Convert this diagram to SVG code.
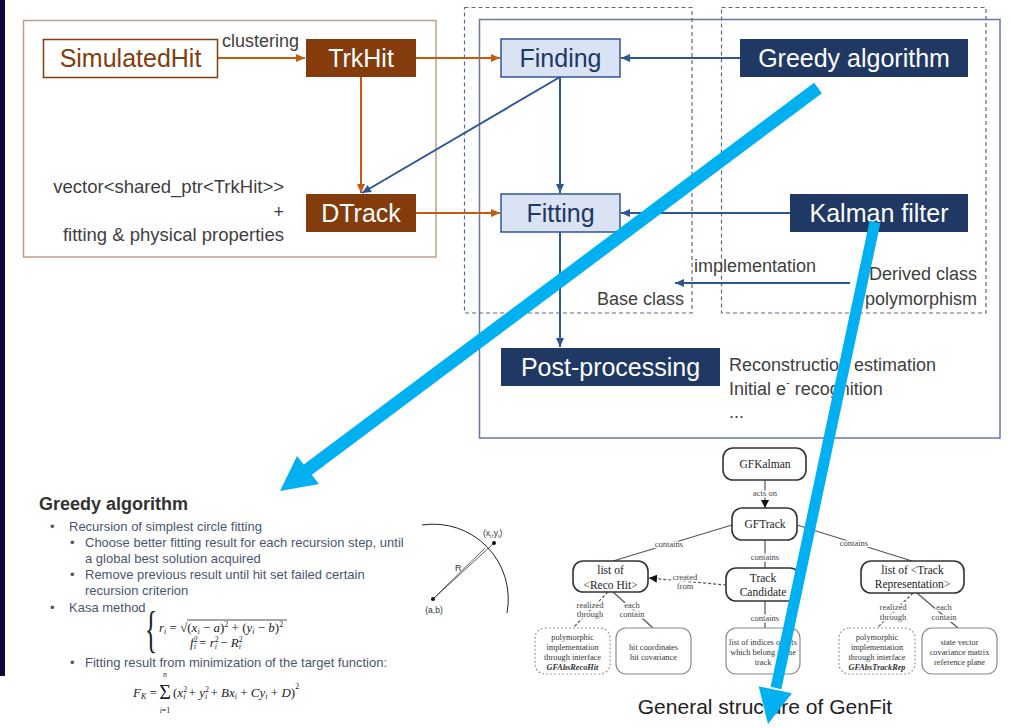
<svg xmlns="http://www.w3.org/2000/svg" width="1012" height="728" viewBox="0 0 1012 728">
<style>
.big{font-family:"Liberation Sans",Arial,sans-serif;font-size:25px;text-anchor:middle}
.mid{font-family:"Liberation Sans",Arial,sans-serif;font-size:18px;fill:#404040}
.or{stroke:#c55a11;stroke-width:2;fill:none}
.bl{stroke:#2f5597;stroke-width:2;fill:none}
.dash{fill:none;stroke:#5a6a8a;stroke-width:1.2;stroke-dasharray:4 3}
.cy{stroke:#00b0f0;stroke-width:13;fill:none}
.cyh{fill:#00b0f0}
.sl{font-family:"Liberation Sans",Arial,sans-serif;font-size:13px;fill:#4a5670}
.m{font-family:"Liberation Serif","Times New Roman",serif;fill:#222}
.gb{fill:#fff;stroke:#333;stroke-width:1.6}
.gs{fill:#fff;stroke:#888;stroke-width:1.2}
.gd{fill:#fff;stroke:#999;stroke-width:1.2;stroke-dasharray:2 2}
.gl{stroke:#555;stroke-width:1.2;fill:none}
.gld{stroke:#555;stroke-width:1.2;fill:none;stroke-dasharray:3 2}
.gt{font-family:"Liberation Serif","Times New Roman",serif;font-size:11.5px;fill:#222;text-anchor:middle}
.gsm{font-family:"Liberation Serif","Times New Roman",serif;font-size:8.3px;fill:#333;text-anchor:middle}
.glb{font-family:"Liberation Serif","Times New Roman",serif;font-size:8.5px;fill:#444;text-anchor:middle;paint-order:stroke;stroke:#fff;stroke-width:3px}
</style>
<defs>
<marker id="ao" markerUnits="userSpaceOnUse" markerWidth="9" markerHeight="8" refX="9" refY="4" orient="auto"><path d="M0,0 L9,4 L0,8 z" fill="#c55a11"/></marker>
<marker id="ab" markerUnits="userSpaceOnUse" markerWidth="9" markerHeight="8" refX="9" refY="4" orient="auto"><path d="M0,0 L9,4 L0,8 z" fill="#2f5597"/></marker>
<marker id="ak" markerUnits="userSpaceOnUse" markerWidth="8" markerHeight="8" refX="8" refY="4" orient="auto"><path d="M0,0 L8,4 L0,8 z" fill="#111"/></marker>
</defs>
<rect width="1012" height="728" fill="#fff"/>
<rect x="0" y="0" width="5" height="676" fill="#0b0b3b"/>

<!-- frames -->
<rect x="23.5" y="20.5" width="412.5" height="236.5" fill="none" stroke="#bf9e88" stroke-width="1.5"/>
<rect x="479.5" y="19.5" width="520.5" height="418.5" fill="none" stroke="#6677a3" stroke-width="1.5"/>
<rect class="dash" x="464.5" y="7.5" width="227.5" height="305.5"/>
<rect class="dash" x="721.5" y="7.5" width="264.5" height="305.5"/>

<g id="connectors">
<line class="or" x1="218" y1="58" x2="305" y2="58" marker-end="url(#ao)"/>
<line class="or" x1="361" y1="77" x2="361" y2="193" marker-end="url(#ao)"/>
<line class="or" x1="416" y1="58" x2="500" y2="58" marker-end="url(#ao)"/>
<line class="or" x1="416" y1="213" x2="500" y2="213" marker-end="url(#ao)"/>
<line class="bl" x1="740" y1="58" x2="621" y2="58" marker-end="url(#ab)"/>
<line class="bl" x1="790" y1="213" x2="621" y2="213" marker-end="url(#ab)"/>
<line class="bl" x1="560" y1="77" x2="560" y2="193" marker-end="url(#ab)"/>
<line class="bl" x1="560" y1="77" x2="362" y2="193" marker-end="url(#ab)"/>
<line class="bl" x1="560" y1="232" x2="560" y2="347" marker-end="url(#ab)"/>
<line class="bl" x1="850" y1="283" x2="675" y2="283" marker-end="url(#ab)"/>
</g>

<g id="simulatedhit"><rect x="43.5" y="39.5" width="174" height="38" fill="#fff" stroke="#843c0c" stroke-width="1.5"/><text class="big" x="130.5" y="67" fill="#843c0c">SimulatedHit</text></g>
<g id="trkhit"><rect x="306" y="39" width="110" height="38" fill="#843c0c"/><text class="big" x="361" y="67" fill="#fff">TrkHit</text></g>
<g id="dtrack"><rect x="306" y="194" width="110" height="38" fill="#843c0c"/><text class="big" x="361" y="222" fill="#fff">DTrack</text></g>
<g id="finding"><rect x="501" y="39" width="119" height="38" fill="#dae3f3" stroke="#2f5597" stroke-width="1.5"/><text class="big" x="560.5" y="67" fill="#203864">Finding</text></g>
<g id="fitting"><rect x="501" y="194" width="119" height="38" fill="#dae3f3" stroke="#2f5597" stroke-width="1.5"/><text class="big" x="560.5" y="222" fill="#203864">Fitting</text></g>
<g id="greedy"><rect x="740" y="39" width="228" height="38" fill="#203864"/><text class="big" x="854" y="67" fill="#fff">Greedy algorithm</text></g>
<g id="kalman"><rect x="790" y="194" width="178" height="38" fill="#203864"/><text class="big" x="879" y="222" fill="#fff">Kalman filter</text></g>
<g id="postprocessing"><rect x="501" y="348" width="219" height="38" fill="#203864"/><text class="big" x="610.5" y="376" fill="#fff">Post-processing</text></g>

<g id="labels">
<text class="mid" x="222" y="47">clustering</text>
<text class="mid" x="284" y="193" text-anchor="end" style="font-size:18.5px">vector&lt;shared_ptr&lt;TrkHit&gt;&gt;</text>
<text class="mid" x="284" y="218" text-anchor="end">+</text>
<text class="mid" x="284" y="241" text-anchor="end" style="font-size:18.5px">fitting &amp; physical properties</text>
<text class="mid" x="694" y="272">implementation</text>
<text class="mid" x="684" y="305" text-anchor="end">Base class</text>
<text class="mid" x="977" y="280" text-anchor="end">Derived class</text>
<text class="mid" x="977" y="305" text-anchor="end">polymorphism</text>
<text class="mid" x="729" y="371">Reconstruction estimation</text>
<text class="mid" x="729" y="395">Initial e<tspan font-size="11" dy="-9">-</tspan><tspan dy="9"> recognition</tspan></text>
<text class="mid" x="729" y="418">...</text>
</g>

<g id="greedy-slide">
<text x="39" y="510" font-family="Liberation Sans,Arial,sans-serif" font-size="18" font-weight="bold" fill="#333">Greedy algorithm</text>
<text class="sl" x="50" y="531">•</text><text class="sl" x="69" y="531">Recursion of simplest circle fitting</text>
<text class="sl" x="70" y="547">•</text><text class="sl" x="85" y="547">Choose better fitting result for each recursion step, until</text>
<text class="sl" x="85" y="563">a global best solution acquired</text>
<text class="sl" x="70" y="579">•</text><text class="sl" x="85" y="579">Remove previous result until hit set failed certain</text>
<text class="sl" x="85" y="595">recursion criterion</text>
<text class="sl" x="50" y="612">•</text><text class="sl" x="69" y="612">Kasa method</text>
<text class="sl" x="70" y="667">•</text><text class="sl" x="85" y="667">Fitting result from minimization of the target function:</text>
<text class="m" x="0" y="0" style="font-size:50px" transform="translate(145,646) scale(0.5,1)">{</text>
<text class="m" x="159" y="632" style="font-size:13px"><tspan font-style="italic">r</tspan><tspan font-size="8" dy="2" font-style="italic">i</tspan><tspan dy="-2"> = √(</tspan><tspan font-style="italic">x</tspan><tspan font-size="8" dy="2" font-style="italic">i</tspan><tspan dy="-2"> − </tspan><tspan font-style="italic">a</tspan><tspan>)</tspan><tspan font-size="8" dy="-5">2</tspan><tspan dy="5"> + (</tspan><tspan font-style="italic">y</tspan><tspan font-size="8" dy="2" font-style="italic">i</tspan><tspan dy="-2"> − </tspan><tspan font-style="italic">b</tspan><tspan>)</tspan><tspan font-size="8" dy="-5">2</tspan></text>
<line x1="187" y1="620" x2="287" y2="620" stroke="#222" stroke-width="0.8"/>
<text class="m" x="190" y="647" style="font-size:13px"><tspan font-style="italic">f</tspan><tspan font-size="8" dy="-5">2</tspan><tspan font-size="8" dx="-4" dy="7" font-style="italic">i</tspan><tspan dy="-2"> = </tspan><tspan font-style="italic">r</tspan><tspan font-size="8" dy="-5">2</tspan><tspan font-size="8" dx="-4" dy="7" font-style="italic">i</tspan><tspan dy="-2"> − </tspan><tspan font-style="italic">R</tspan><tspan font-size="8" dy="-5">2</tspan><tspan font-size="8" dx="-4" dy="7" font-style="italic">i</tspan></text>
<text class="m" x="133" y="697" style="font-size:13px"><tspan font-style="italic">F</tspan><tspan font-size="8" dy="2" font-style="italic">K</tspan><tspan dy="-2"> = </tspan></text>
<text class="m" x="165" y="699" style="font-size:20px" text-anchor="middle">Σ</text>
<text class="m" x="165" y="677" style="font-size:8px;font-style:italic" text-anchor="middle">n</text>
<text class="m" x="165" y="713" style="font-size:8px" text-anchor="middle"><tspan font-style="italic">i</tspan>=1</text>
<text class="m" x="173" y="697" style="font-size:13px"><tspan>(</tspan><tspan font-style="italic">x</tspan><tspan font-size="8" dy="-5">2</tspan><tspan font-size="8" dx="-4" dy="7" font-style="italic">i</tspan><tspan dy="-2"> + </tspan><tspan font-style="italic">y</tspan><tspan font-size="8" dy="-5">2</tspan><tspan font-size="8" dx="-4" dy="7" font-style="italic">i</tspan><tspan dy="-2"> + </tspan><tspan font-style="italic">Bx</tspan><tspan font-size="8" dy="2" font-style="italic">i</tspan><tspan dy="-2"> + </tspan><tspan font-style="italic">Cy</tspan><tspan font-size="8" dy="2" font-style="italic">i</tspan><tspan dy="-2"> + </tspan><tspan font-style="italic">D</tspan><tspan>)</tspan><tspan font-size="8" dy="-8">2</tspan></text>
</g>

<g id="circle-figure">
<path d="M422,525 A75,75 0 0 1 507,613" fill="none" stroke="#222" stroke-width="1"/>
<line x1="433" y1="599" x2="494" y2="543" stroke="#333" stroke-width="0.8"/>
<line x1="433" y1="599" x2="485" y2="548" stroke="#333" stroke-width="0.8"/>
<circle cx="433" cy="599" r="2" fill="#111"/>
<circle cx="494" cy="543" r="2" fill="#111"/>
<text x="455" y="571" font-family="Liberation Sans,Arial,sans-serif" font-size="9" fill="#333">R</text>
<text x="434" y="613" font-family="Liberation Sans,Arial,sans-serif" font-size="8.5" fill="#333" text-anchor="middle">(a,b)</text>
<text x="483" y="536" font-family="Liberation Sans,Arial,sans-serif" font-size="8.5" fill="#333">(x<tspan font-size="6" dy="2">i</tspan><tspan dy="-2">,y</tspan><tspan font-size="6" dy="2">i</tspan><tspan dy="-2">)</tspan></text>
</g>

<g id="genfit-connectors">
<line class="gl" x1="765" y1="480" x2="765" y2="508" marker-end="url(#ak)"/>
<line class="gl" x1="765" y1="540" x2="765" y2="568"/>
<line class="gl" x1="765" y1="601" x2="765" y2="628"/>
<line class="gl" x1="732" y1="525" x2="613" y2="561"/>
<line class="gl" x1="797" y1="525" x2="912" y2="561"/>
<line class="gld" x1="726" y1="585" x2="649" y2="578" marker-end="url(#ak)"/>
<line class="gld" x1="608" y1="592" x2="573" y2="628"/>
<line class="gl" x1="613" y1="592" x2="653" y2="628"/>
<line class="gld" x1="913" y1="593" x2="877" y2="628"/>
<line class="gl" x1="917" y1="593" x2="958" y2="628"/>
<text class="glb" x="765" y="496">acts on</text>
<text class="glb" x="765" y="560">contains</text>
<text class="glb" x="765" y="621">contains</text>
<text class="glb" x="669" y="547">contains</text>
<text class="glb" x="854" y="546">contains</text>
<text class="glb" x="685" y="580">created</text>
<text class="glb" x="685" y="589">from</text>
<text class="glb" x="590" y="608">realized</text>
<text class="glb" x="590" y="617">through</text>
<text class="glb" x="632" y="608">each</text>
<text class="glb" x="632" y="617">contain</text>
<text class="glb" x="893" y="610">realized</text>
<text class="glb" x="893" y="620">through</text>
<text class="glb" x="944" y="610">each</text>
<text class="glb" x="944" y="620">contain</text>
</g>
<g id="gfkalman"><rect class="gb" x="723" y="448" width="83" height="32" rx="10"/><text class="gt" x="765" y="468">GFKalman</text></g>
<g id="gftrack"><rect class="gb" x="732" y="508" width="65" height="32" rx="10"/><text class="gt" x="765" y="528">GFTrack</text></g>
<g id="trackcandidate"><rect class="gb" x="726" y="568" width="74" height="33" rx="10"/><text class="gt" x="763" y="582">Track</text><text class="gt" x="763" y="596">Candidate</text></g>
<g id="recohitlist"><rect class="gb" x="573" y="561" width="75" height="31" rx="10"/><text class="gt" x="610.5" y="574">list of</text><text class="gt" x="610.5" y="589">&lt;Reco Hit&gt;</text></g>
<g id="trackreplist"><rect class="gb" x="861" y="561" width="103" height="32" rx="10"/><text class="gt" x="912.5" y="574">list of &lt;Track</text><text class="gt" x="912.5" y="588">Representation&gt;</text></g>
<g id="poly1"><rect class="gd" x="535" y="628" width="75" height="46" rx="10"/><text class="gsm" x="572.5" y="640">polymorphic</text><text class="gsm" x="572.5" y="650">implementation</text><text class="gsm" x="572.5" y="660">through interface</text><text class="gsm" x="572.5" y="670" font-weight="bold" font-style="italic">GFAbsRecoHit</text></g>
<g id="hitcoords"><rect class="gs" x="616" y="628" width="75" height="46" rx="10"/><text class="gsm" x="653.5" y="650">hit coordinates</text><text class="gsm" x="653.5" y="660">hit covariance</text></g>
<g id="indices"><rect class="gs" x="726" y="628" width="74" height="46" rx="10"/><text class="gsm" x="763" y="645">list of indices of hits</text><text class="gsm" x="763" y="655">which belong to the</text><text class="gsm" x="763" y="665">track</text></g>
<g id="poly2"><rect class="gd" x="839" y="628" width="76" height="46" rx="10"/><text class="gsm" x="877" y="640">polymorphic</text><text class="gsm" x="877" y="650">implementation</text><text class="gsm" x="877" y="660">through interface</text><text class="gsm" x="877" y="670" font-weight="bold" font-style="italic">GFAbsTrackRep</text></g>
<g id="statebox"><rect class="gs" x="922" y="628" width="75" height="46" rx="10"/><text class="gsm" x="959.5" y="645">state vector</text><text class="gsm" x="959.5" y="655">covariance matrix</text><text class="gsm" x="959.5" y="665">reference plane</text></g>
<text x="765" y="714" font-family="Liberation Sans,Arial,sans-serif" font-size="21" fill="#222" text-anchor="middle">General structure of GenFit</text>

<g id="cyan-arrows">
<line class="cy" x1="818" y1="88" x2="306" y2="471"/>
<polygon class="cyh" points="280,491 297,456 319,484"/>
<line class="cy" x1="875" y1="222" x2="776" y2="688" style="stroke-width:11"/>
<polygon class="cyh" points="768,724 758.7,686.3 791.9,693.3"/>
</g>
</svg>
